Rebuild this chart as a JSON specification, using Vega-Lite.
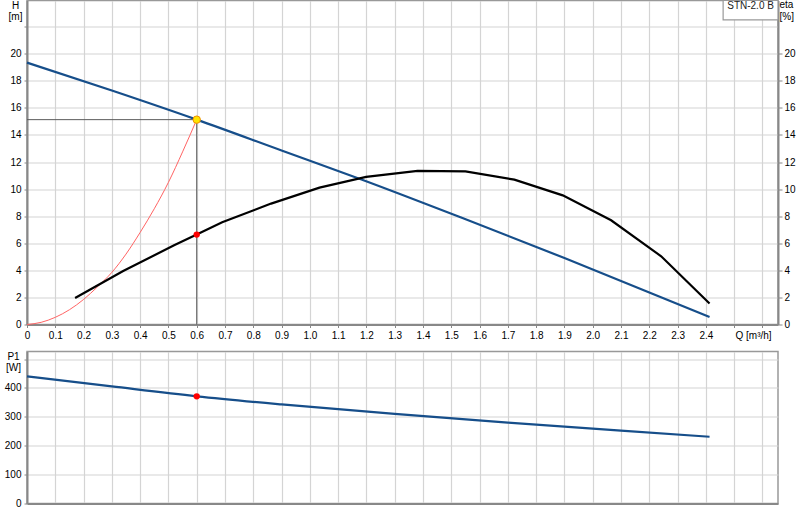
{
  "$schema": "https://vega.github.io/schema/vega-lite/v6.json",
  "background": "white",
  "padding": {"left": 3, "top": -1.5, "right": 0, "bottom": 0},
  "bounds": "flush",
  "spacing": 27,
  "config": {
    "font": "Liberation Sans",
    "view": {"stroke": "#999999", "strokeWidth": 1.5},
    "axis": {
      "labelFontSize": 10,
      "labelColor": "#000000",
      "titleFontSize": 10,
      "titleColor": "#000000",
      "titleFontWeight": "normal",
      "gridColor": "#d4d4d4",
      "gridWidth": 1.2,
      "domainColor": "#888888",
      "domainWidth": 2,
      "tickColor": "#888888",
      "labelFlush": false,
      "labelOverlap": false
    }
  },
  "datasets": {
    "qh": [
      {"Q": 0, "H": 19.34},
      {"Q": 0.3, "H": 17.28},
      {"Q": 0.6, "H": 15.13},
      {"Q": 0.9, "H": 12.85},
      {"Q": 1.18, "H": 10.73},
      {"Q": 1.535, "H": 7.9},
      {"Q": 1.9, "H": 4.91},
      {"Q": 2.413, "H": 0.56}
    ],
    "eta": [
      {"Q": 0.17, "eta": 1.96},
      {"Q": 0.34, "eta": 3.95},
      {"Q": 0.52, "eta": 5.85},
      {"Q": 0.6, "eta": 6.64},
      {"Q": 0.69, "eta": 7.55},
      {"Q": 0.863, "eta": 8.93},
      {"Q": 1.034, "eta": 10.11},
      {"Q": 1.199, "eta": 10.9},
      {"Q": 1.381, "eta": 11.34},
      {"Q": 1.55, "eta": 11.31},
      {"Q": 1.723, "eta": 10.7},
      {"Q": 1.894, "eta": 9.54},
      {"Q": 2.065, "eta": 7.7},
      {"Q": 2.242, "eta": 5.04},
      {"Q": 2.413, "eta": 1.55}
    ],
    "sys": [
      {"Q": 0, "H": 0},
      {"Q": 0.05, "H": 0.16},
      {"Q": 0.1, "H": 0.53},
      {"Q": 0.15, "H": 1.09},
      {"Q": 0.2, "H": 1.85},
      {"Q": 0.25, "H": 2.8},
      {"Q": 0.3, "H": 3.85},
      {"Q": 0.35, "H": 5.2},
      {"Q": 0.4, "H": 6.8},
      {"Q": 0.45, "H": 8.55},
      {"Q": 0.5, "H": 10.5},
      {"Q": 0.55, "H": 12.75},
      {"Q": 0.6, "H": 15.13}
    ],
    "p1": [
      {"Q": 0, "P1": 440},
      {"Q": 0.3, "P1": 405},
      {"Q": 0.6, "P1": 371},
      {"Q": 0.9, "P1": 343},
      {"Q": 1.3, "P1": 310},
      {"Q": 1.7, "P1": 280},
      {"Q": 2.1, "P1": 252},
      {"Q": 2.413, "P1": 231}
    ],
    "op": [
      {"Q": 0.6, "H": 15.13, "eta": 6.64, "P1": 371}
    ],
    "box": [
      {"Q1": 2.461, "Q2": 2.655, "H1": 23.93, "H2": 22.5, "Qc": 2.558, "Hc": 23.5, "label": "STN-2.0 B"}
    ]
  },
  "vconcat": [
    {
      "width": 751,
      "height": 324,
      "resolve": {"scale": {"y": "independent"}},
      "encoding": {
        "x": {
          "field": "Q", "type": "quantitative",
          "scale": {"domain": [0, 2.655], "nice": false, "zero": false},
          "axis": {
            "values": [0, 0.1, 0.2, 0.3, 0.4, 0.5, 0.6, 0.7, 0.8, 0.9, 1.0, 1.1, 1.2, 1.3, 1.4, 1.5, 1.6, 1.7, 1.8, 1.9, 2.0, 2.1, 2.2, 2.3, 2.4, 2.5, 2.6],
            "labelExpr": "datum.value > 2.45 ? '' : (datum.value == 0 ? '0' : format(datum.value, '.1f'))",
            "title": "Q [m³/h]",
            "titleX": 708,
            "titleY": 14,
            "titleAlign": "left",
            "titleBaseline": "alphabetic",
            "tickSize": 3,
            "labelPadding": 3,
            "grid": true
          }
        }
      },
      "layer": [
        {
          "encoding": {
            "y": {
              "field": "H", "type": "quantitative",
              "scale": {"domain": [0, 23.93], "nice": false, "zero": false},
              "axis": {
                "values": [0, 2, 4, 6, 8, 10, 12, 14, 16, 18, 20, 22],
                "labelExpr": "datum.value > 21 ? '' : datum.label",
                "title": ["H", "[m]"],
                "titleAngle": 0,
                "titleAlign": "center",
                "titleBaseline": "alphabetic",
                "titleX": -12,
                "titleY": 7.5,
                "titleLineHeight": 11.5,
                "tickSize": 3,
                "labelPadding": 3,
                "grid": true
              }
            }
          },
          "layer": [
            {
              "data": {"name": "qh"},
              "mark": {"type": "line", "color": "#164e8a", "strokeWidth": 2.2, "interpolate": "monotone"}
            },
            {
              "data": {"name": "sys"},
              "mark": {"type": "line", "color": "#ff6464", "strokeWidth": 1, "interpolate": "monotone"}
            },
            {
              "data": {"name": "op"},
              "mark": {"type": "rule", "color": "#5a5a5a", "strokeWidth": 1},
              "encoding": {"x2": {"datum": 0}}
            },
            {
              "data": {"name": "op"},
              "mark": {"type": "rule", "color": "#5a5a5a", "strokeWidth": 1},
              "encoding": {"y2": {"datum": 0}}
            },
            {
              "data": {"name": "op"},
              "mark": {"type": "point", "filled": true, "fill": "#ffe400", "stroke": "#f09000", "strokeWidth": 1, "size": 55, "opacity": 1}
            },
            {
              "data": {"name": "box"},
              "mark": {"type": "rect", "fill": "white", "stroke": "#999999", "strokeWidth": 1.2},
              "encoding": {
                "x": {"field": "Q1", "type": "quantitative"},
                "x2": {"field": "Q2"},
                "y": {"field": "H1", "type": "quantitative"},
                "y2": {"field": "H2"}
              }
            },
            {
              "data": {"name": "box"},
              "mark": {"type": "text", "fontSize": 10, "color": "#222222", "align": "center", "baseline": "middle"},
              "encoding": {
                "x": {"field": "Qc", "type": "quantitative"},
                "y": {"field": "Hc", "type": "quantitative"},
                "text": {"field": "label"}
              }
            }
          ]
        },
        {
          "encoding": {
            "y": {
              "field": "eta", "type": "quantitative",
              "scale": {"domain": [0, 23.93], "nice": false, "zero": false},
              "axis": {
                "orient": "right",
                "values": [0, 2, 4, 6, 8, 10, 12, 14, 16, 18, 20],
                "title": ["eta", "[%]"],
                "titleAngle": 0,
                "titleAlign": "left",
                "titleBaseline": "alphabetic",
                "titleX": 1,
                "titleY": 7,
                "titleLineHeight": 11.5,
                "tickSize": 4,
                "labelPadding": 2,
                "grid": false
              }
            }
          },
          "layer": [
            {
              "data": {"name": "eta"},
              "mark": {"type": "line", "color": "#000000", "strokeWidth": 2.2}
            },
            {
              "data": {"name": "op"},
              "mark": {"type": "circle", "color": "#ff0000", "size": 40, "opacity": 1}
            }
          ]
        }
      ]
    },
    {
      "width": 751,
      "height": 152,
      "encoding": {
        "x": {
          "field": "Q", "type": "quantitative",
          "scale": {"domain": [0, 2.655], "nice": false, "zero": false},
          "axis": {
            "values": [0, 0.1, 0.2, 0.3, 0.4, 0.5, 0.6, 0.7, 0.8, 0.9, 1.0, 1.1, 1.2, 1.3, 1.4, 1.5, 1.6, 1.7, 1.8, 1.9, 2.0, 2.1, 2.2, 2.3, 2.4, 2.5, 2.6],
            "labels": false,
            "ticks": false,
            "title": null,
            "grid": true
          }
        },
        "y": {
          "field": "P1", "type": "quantitative",
          "scale": {"domain": [0, 526], "nice": false, "zero": false},
          "axis": {
            "values": [0, 100, 200, 300, 400, 500],
            "labelExpr": "datum.value > 450 ? '' : datum.label",
            "title": ["P1", "[W]"],
            "titleAngle": 0,
            "titleAlign": "center",
            "titleBaseline": "alphabetic",
            "titleX": -14,
            "titleY": 7.7,
            "titleLineHeight": 11,
            "tickSize": 3,
            "labelPadding": 3,
            "grid": true
          }
        }
      },
      "layer": [
        {
          "data": {"name": "p1"},
          "mark": {"type": "line", "color": "#164e8a", "strokeWidth": 2.2, "interpolate": "monotone"}
        },
        {
          "data": {"name": "op"},
          "mark": {"type": "circle", "color": "#ff0000", "size": 40, "opacity": 1}
        }
      ]
    }
  ]
}
